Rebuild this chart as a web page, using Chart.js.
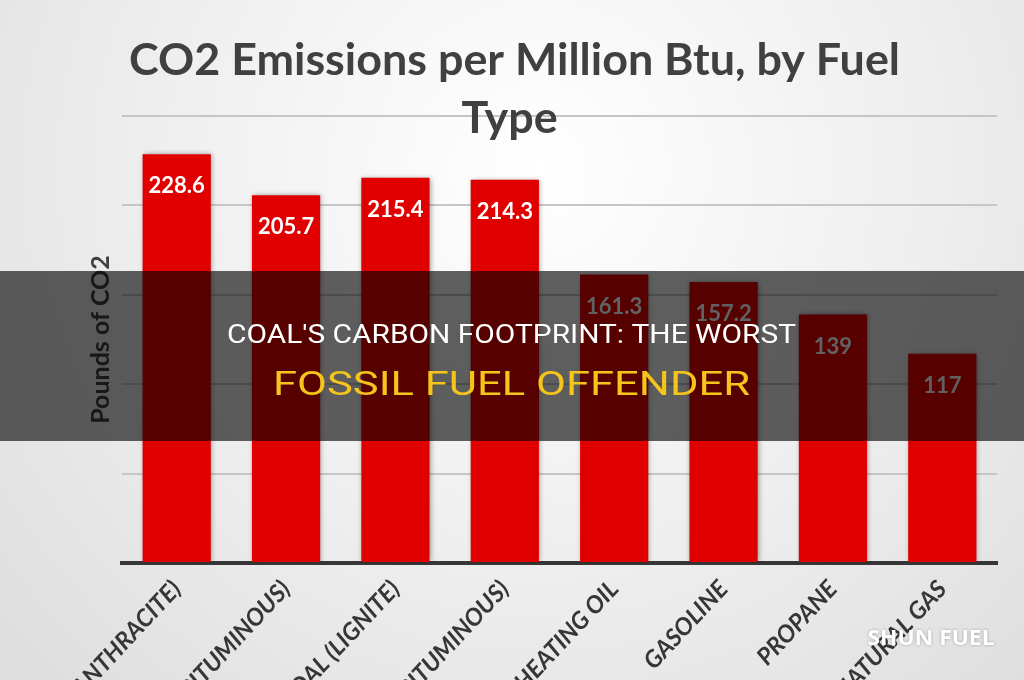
<!DOCTYPE html>
<html>
<head>
<meta charset="utf-8">
<script src="https://cdn.jsdelivr.net/npm/chart.js@4.4.1/dist/chart.umd.min.js"></script>
<style>
  html, body { margin: 0; padding: 0; background: #ececec; overflow: hidden; }
  #wrap { width: 1024px; height: 680px; }
</style>
</head>
<body>
<div id="wrap"><canvas id="co2Chart" width="1024" height="680"></canvas></div>
<script>
// chart data
const fuelLabels = [
  'COAL (ANTHRACITE)',
  'COAL (BITUMINOUS)',
  'COAL (LIGNITE)',
  'COAL (SUBBITUMINOUS)',
  'DIESEL FUEL & HEATING OIL',
  'GASOLINE',
  'PROPANE',
  'NATURAL GAS'
];
const co2Values = [228.6, 205.7, 215.4, 214.3, 161.3, 157.2, 139, 117];
const yMin = 0;
const yMax = 250;
const yStep = 50;

const titleLines = ['CO2 Emissions per Million Btu, by Fuel', 'Type'];
const yTitle = 'Pounds of CO2';
const bannerLines = ["COAL'S CARBON FOOTPRINT: THE WORST", 'FOSSIL FUEL OFFENDER'];
const watermark = 'SHUN FUEL';

// draw text squeezed/stretched to a given width
function fitText(ctx, text, cx, baseline, width) {
  const w = ctx.measureText(text).width;
  ctx.save();
  ctx.translate(cx, baseline);
  ctx.scale(width / w, 1);
  ctx.textAlign = 'center';
  ctx.textBaseline = 'alphabetic';
  ctx.fillText(text, 0, 0);
  ctx.restore();
}

const backdrop = {
  id: 'backdrop',
  beforeDraw(chart) {
    const ctx = chart.ctx;
    const g = ctx.createRadialGradient(540, 170, 0, 540, 170, 720);
    g.addColorStop(0, '#ffffff');
    g.addColorStop(0.55, '#eeeeee');
    g.addColorStop(1, '#dedede');
    ctx.save();
    ctx.fillStyle = g;
    ctx.fillRect(0, 0, chart.width, chart.height);
    ctx.restore();
  }
};

const barShadow = {
  id: 'barShadow',
  beforeDatasetsDraw(chart) {
    const ctx = chart.ctx;
    ctx.save();
    ctx.shadowColor = 'rgba(0,0,0,0.35)';
    ctx.shadowBlur = 5;
    ctx.shadowOffsetX = 1;
  },
  afterDatasetsDraw(chart) {
    const ctx = chart.ctx;
    ctx.restore();
    // value labels inside the bars
    ctx.save();
    ctx.fillStyle = '#ffffff';
    ctx.font = 'bold 22px Lato';
    ctx.textAlign = 'center';
    ctx.textBaseline = 'middle';
    chart.getDatasetMeta(0).data.forEach((bar, i) => {
      ctx.fillText(String(co2Values[i]), bar.x, bar.y + 32);
    });
    ctx.restore();
  }
};

const overlay = {
  id: 'overlay',
  afterDraw(chart) {
    const ctx = chart.ctx;
    ctx.save();
    // chart title
    ctx.fillStyle = '#404040';
    ctx.font = 'bold 44px Lato';
    const s = 771 / ctx.measureText(titleLines[0]).width;
    fitText(ctx, titleLines[0], 514.5, 75, 771);
    fitText(ctx, titleLines[1], 509.5, 133, ctx.measureText(titleLines[1]).width * s);

    // dark banner
    ctx.fillStyle = 'rgba(0,0,0,0.62)';
    ctx.fillRect(0, 271, chart.width, 170);
    ctx.fillStyle = '#ffffff';
    ctx.font = '25px Roboto';
    fitText(ctx, bannerLines[0], 511.5, 343, 569);
    ctx.fillStyle = '#f6c51b';
    ctx.font = '34px Roboto';
    fitText(ctx, bannerLines[1], 511.5, 395, 477);

    // watermark
    ctx.shadowColor = 'rgba(0,0,0,0.3)';
    ctx.shadowBlur = 3;
    ctx.fillStyle = '#ffffff';
    ctx.font = 'bold 21px "Open Sans"';
    fitText(ctx, watermark, 931, 645, 127);
    ctx.restore();
  }
};

const ctl = document.getElementById('co2Chart');
window.co2Chart = new Chart(ctl, {
  type: 'bar',
  data: {
    labels: fuelLabels,
    datasets: [
      {
        label: yTitle,
        data: co2Values,
        backgroundColor: '#e10000',
        borderWidth: 0,
        barPercentage: 0.78,
        categoryPercentage: 0.8
      }
    ]
  },
  options: {
    responsive: false,
    animation: false,
    layout: {
      padding: { left: 86, right: 27, top: 116, bottom: 0 }
    },
    plugins: {
      legend: { display: false },
      tooltip: { enabled: false }
    },
    scales: {
      x: {
        grid: { display: false },
        border: { display: true, color: '#363636', width: 4 },
        ticks: {
          autoSkip: false,
          minRotation: 47,
          maxRotation: 47,
          padding: 4,
          color: '#363636',
          font: { family: 'Lato', size: 24, style: 'italic', weight: 'bold' }
        },
        afterFit(scale) {
          scale.height = 117;
          scale.paddingLeft = 0;
          scale.paddingRight = 0;
        }
      },
      y: {
        min: yMin,
        max: yMax,
        ticks: { display: false, stepSize: yStep },
        grid: { color: '#c6c6c6', lineWidth: 2, drawTicks: false },
        border: { display: false },
        title: {
          display: true,
          text: yTitle,
          color: '#404040',
          font: { family: 'Lato', size: 25, weight: 'bold' },
          padding: { top: 0, bottom: 0 }
        },
        afterFit(scale) {
          scale.width = 36;
        }
      }
    }
  },
  plugins: [backdrop, barShadow, overlay]
});
</script>
</body>
</html>
